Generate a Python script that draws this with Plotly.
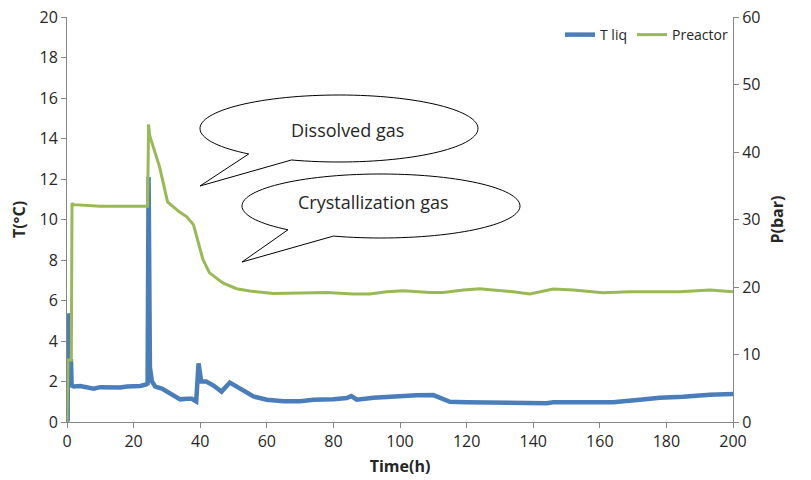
import numpy as np
import plotly.graph_objects as go

# ---- data ----
t_liq_time = [0, 0.2, 0.3, 0.6, 0.7, 1.2, 1.4, 2, 4, 6, 8, 10, 12, 14, 16, 18, 20, 22, 23.8, 24.2,
              24.5, 24.9, 25.5, 26.5, 28.5, 30.5, 32.5, 34, 36, 37.5, 38.8, 39.5, 40.3, 41.8, 44,
              46.4, 48.9, 51.9, 54, 56, 60, 65, 70, 74, 80, 84, 85.4, 87, 92, 96, 100, 105, 110,
              112, 115, 120, 130, 136, 144, 146, 155, 164, 172, 178, 185, 193, 200]
t_liq_value = [0, 0.1, 5.35, 5.2, 3.0, 3.0, 1.8, 1.75, 1.78, 1.72, 1.65, 1.72, 1.70, 1.72, 1.70, 1.75,
               1.75, 1.78, 1.85, 1.9, 12.1, 2.7, 2.0, 1.75, 1.65, 1.45, 1.25, 1.12, 1.15, 1.15, 1.02,
               2.9, 2.0, 2.0, 1.8, 1.5, 1.95, 1.67, 1.45, 1.26, 1.1, 1.02, 1.02, 1.1, 1.12, 1.18,
               1.28, 1.1, 1.2, 1.25, 1.3, 1.32, 1.33, 1.2, 1.0, 0.98, 0.96, 0.94, 0.93, 0.98, 0.97,
               0.98, 1.1, 1.2, 1.25, 1.35, 1.38]

p_time = [0, 0.3, 1.3, 1.5, 2, 5, 10, 15, 20, 24.2, 24.5, 24.8, 27.8, 30.2, 33.8, 36, 38, 39.3,
          40.8, 42.8, 46.8, 50.9, 54.9, 61.9, 71.9, 77.9, 85.9, 90.9, 96, 101, 109, 113, 119, 124,
          127, 134, 139, 146, 152, 161, 169, 184, 193, 200]
p_value = [0, 9.2, 9.2, 32.4, 32.2, 32.1, 31.95, 31.95, 31.95, 31.95, 44.1, 42.5, 37.8, 32.6, 31.1,
           30.4, 29.2, 27.0, 24.1, 22.1, 20.6, 19.75, 19.4, 19.05, 19.2, 19.2, 18.95, 18.95, 19.3,
           19.45, 19.2, 19.2, 19.55, 19.75, 19.6, 19.3, 18.95, 19.7, 19.55, 19.15, 19.3, 19.3,
           19.55, 19.3]

x_ticks = [0, 20, 40, 60, 80, 100, 120, 140, 160, 180, 200]
callout_texts = ["Dissolved gas", "Crystallization gas"]

BLUE = "#4A7EBB"
GREEN = "#98B954"
AXIS = "#868686"
TXT = "#262626"
FONT = "Open Sans"

W, H = 811, 480
ML, MR, MT, MB = 67, 78, 17, 58
PW, PH = W - ML - MR, H - MT - MB


def px2paper(px, py):
    # px, py are pixel positions in the reference picture
    return (px - ML) / PW, (H - MB - py) / PH


def callout_path(cx, cy, rx, ry, a_deg, b_deg, tip):
    angs = np.radians(np.linspace(a_deg, b_deg + 360, 120))
    pts = [(cx + rx * np.cos(a), cy + ry * np.sin(a)) for a in angs]
    pts.append(tip)
    s = ""
    for i, (px, py) in enumerate(pts):
        xp, yp = px2paper(px, py)
        s += ("M" if i == 0 else "L") + f"{xp:.5f},{yp:.5f}"
    return s + "Z"


fig = go.Figure()
fig.add_trace(go.Scatter(x=t_liq_time, y=t_liq_value, mode="lines", name="T liq",
                         line=dict(color=BLUE, width=4.5), yaxis="y"))
fig.add_trace(go.Scatter(x=p_time, y=p_value, mode="lines", name="Preactor",
                         line=dict(color=GREEN, width=3), yaxis="y2"))

shapes = [
    dict(type="path", xref="paper", yref="paper",
         path=callout_path(339, 128.5, 139, 33.5, 130.5, 110, (200, 186)),
         fillcolor="white", line=dict(color="black", width=1), layer="above"),
    dict(type="path", xref="paper", yref="paper",
         path=callout_path(381, 206, 139, 32, 132, 110, (242, 262)),
         fillcolor="white", line=dict(color="black", width=1), layer="above"),
]
annotations = []
for txt, (px, py) in zip(callout_texts, [(347, 130), (373, 202)]):
    xp, yp = px2paper(px, py)
    annotations.append(dict(text=txt, x=xp, y=yp, xref="paper", yref="paper", showarrow=False,
                            font=dict(family=FONT, size=18, color=TXT),
                            xanchor="center", yanchor="middle"))

fig.update_layout(
    width=W, height=H,
    margin=dict(l=ML, r=MR, t=MT, b=MB, autoexpand=False),
    paper_bgcolor="white", plot_bgcolor="white",
    font=dict(family=FONT, size=16, color=TXT),
    showlegend=True,
    legend=dict(orientation="h", x=1.0, xanchor="right", y=0.995, yanchor="top",
                font=dict(family=FONT, size=14, color=TXT),
                bgcolor="rgba(0,0,0,0)", itemwidth=30, tracegroupgap=0),
    xaxis=dict(range=[0, 200], tickvals=x_ticks, ticks="outside", ticklen=5, tickcolor=AXIS,
               showline=True, linecolor=AXIS, linewidth=1, showgrid=False, zeroline=False,
               ticklabeloverflow="allow",
               title=dict(text="<b>Time(h)</b>", font=dict(size=16), standoff=9)),
    yaxis=dict(range=[0, 20], dtick=2, ticks="outside", ticklen=5, tickcolor=AXIS,
               showline=True, linecolor=AXIS, linewidth=1, showgrid=False, zeroline=False,
               ticklabeloverflow="allow",
               title=dict(text="<b>T(°C)</b>", font=dict(size=16), standoff=9)),
    yaxis2=dict(range=[0, 60], dtick=10, ticks="outside", ticklen=5, tickcolor=AXIS,
                overlaying="y", side="right", anchor="x",
                showline=True, linecolor=AXIS, linewidth=1, showgrid=False, zeroline=False,
                ticklabeloverflow="allow",
                title=dict(text="<b>P(bar)</b>", font=dict(size=16), standoff=12)),
    shapes=shapes,
    annotations=annotations,
)

fig.write_html("out.html", config={"displayModeBar": False},
               post_script="document.body.style.margin='0';document.body.style.overflow='hidden';")
